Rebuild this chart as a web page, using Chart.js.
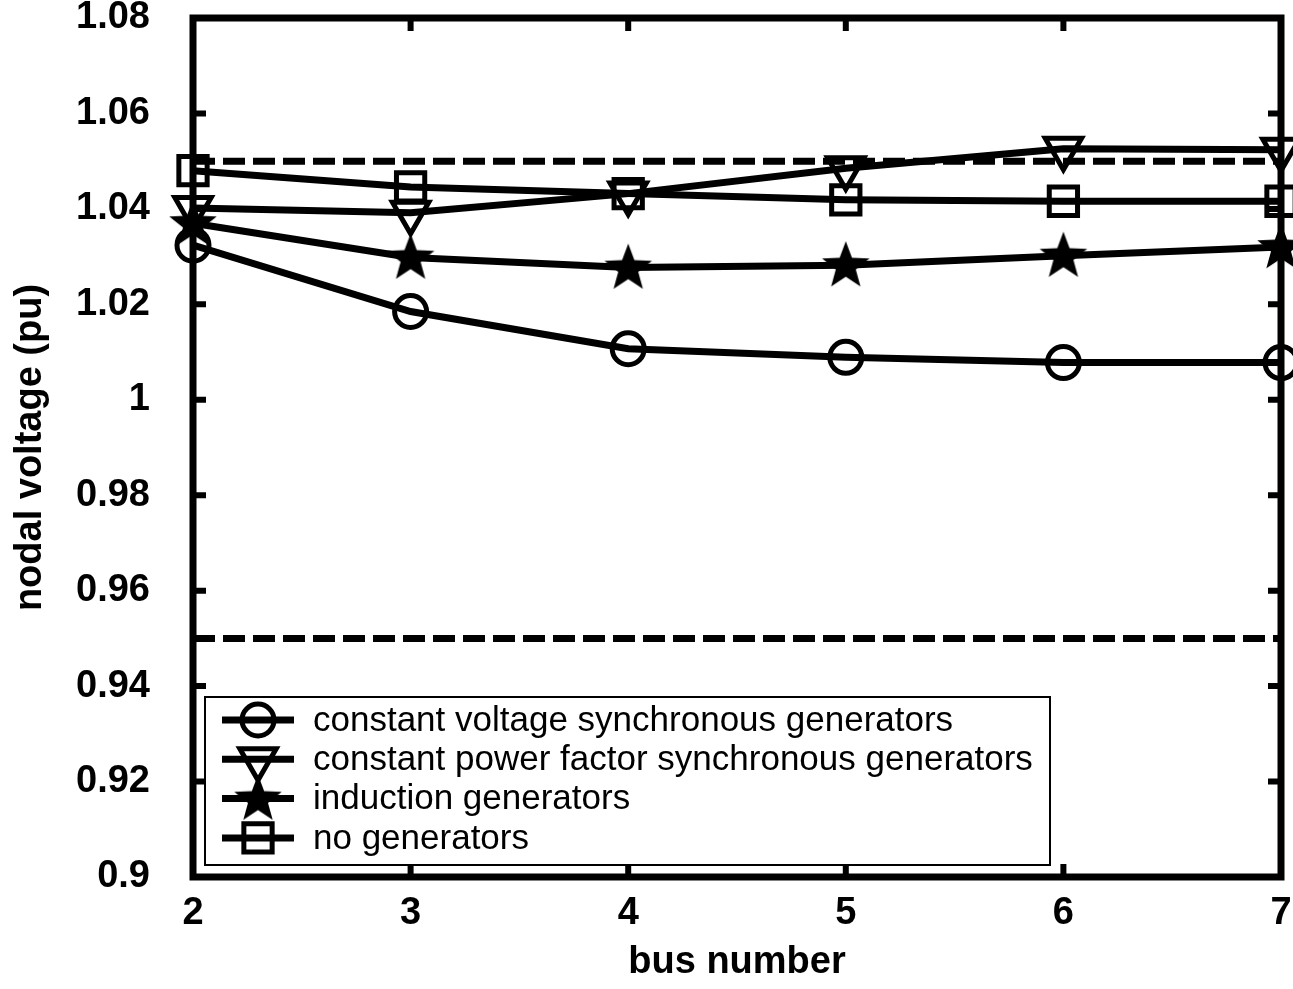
<!DOCTYPE html>
<html lang="en">
<head>
  <meta charset="UTF-8">
  <title>Nodal voltage per bus</title>
  <script src="https://cdn.jsdelivr.net/npm/chart.js"></script>
  <style>
    html, body { margin: 0; padding: 0; background: #fff; }
    #wrap { width: 1293px; height: 989px; }
  </style>
</head>
<body>
  <div id="wrap"><canvas id="voltChart" width="1293" height="989"></canvas></div>

  <script>
    // bus numbers on x, nodal voltage (pu) on y
    const busNumbers = [2, 3, 4, 5, 6, 7];
    const constVoltageSync = [1.0324, 1.0185, 1.0107, 1.0089, 1.0078, 1.0078];
    const constPfSync      = [1.0402, 1.0392, 1.0432, 1.0485, 1.0526, 1.0524];
    const inductionGen     = [1.0370, 1.0298, 1.0277, 1.0282, 1.0302, 1.0320];
    const noGenerators     = [1.0480, 1.0446, 1.0432, 1.0419, 1.0416, 1.0416];

    // voltage limits (dashed)
    const limitBuses = [2, 7];
    const upperLimit = [1.05, 1.05];
    const lowerLimit = [0.95, 0.95];

    const xTickValues = [2, 3, 4, 5, 6, 7];
    const yTickValues = [0.9, 0.92, 0.94, 0.96, 0.98, 1, 1.02, 1.04, 1.06, 1.08];

    const seriesNames = [
      'constant voltage synchronous generators',
      'constant power factor synchronous generators',
      'induction generators',
      'no generators'
    ];

    const FONT = '"Liberation Sans", Arial, Helvetica, sans-serif';

    // filled five point star marker
    const starImg = document.createElement('canvas');
    starImg.width = 54; starImg.height = 54;
    (function () {
      const c = starImg.getContext('2d');
      const R = 25, r = 10.5, cx = 27, cy = 28;
      c.beginPath();
      for (let i = 0; i < 10; i++) {
        const rad = (i % 2 === 0) ? R : r;
        const a = -Math.PI / 2 + i * Math.PI / 5;
        const px = cx + rad * Math.cos(a), py = cy + rad * Math.sin(a);
        if (i === 0) c.moveTo(px, py); else c.lineTo(px, py);
      }
      c.closePath();
      c.fillStyle = '#000';
      c.fill();
    })();

    const toPts = (xs, ys) => xs.map((x, i) => ({ x: x, y: ys[i] }));

    function series(label, values, style, radius, rotation) {
      return {
        label: label,
        data: toPts(busNumbers, values),
        borderColor: '#000',
        borderWidth: 7,
        backgroundColor: 'rgba(0,0,0,0)',
        pointStyle: style,
        pointRadius: radius,
        pointHoverRadius: radius,
        pointRotation: rotation || 0,
        pointBorderWidth: 5,
        pointBorderColor: '#000',
        pointBackgroundColor: 'rgba(0,0,0,0)',
        tension: 0,
        clip: false
      };
    }

    function limit(values) {
      return {
        label: '',
        data: toPts(limitBuses, values),
        borderColor: '#000',
        borderWidth: 7,
        borderDash: [22, 8],
        pointRadius: 0,
        clip: false
      };
    }

    const datasets = [
      series(seriesNames[0], constVoltageSync, 'circle', 16),
      series(seriesNames[1], constPfSync, 'triangle', 21, 180),
      series(seriesNames[2], inductionGen, starImg, 25),
      series(seriesNames[3], noGenerators, 'rect', 20),
      limit(upperLimit),
      limit(lowerLimit)
    ];

    // box frame with inward ticks
    const framePlugin = {
      id: 'frame',
      beforeDatasetsDraw(chart) {
        const { ctx, chartArea: a, scales } = chart;
        ctx.save();
        ctx.strokeStyle = '#000';
        ctx.lineWidth = 6;
        const len = 13;
        ctx.beginPath();
        xTickValues.forEach(v => {
          const px = scales.x.getPixelForValue(v);
          ctx.moveTo(px, a.bottom); ctx.lineTo(px, a.bottom - len);
          ctx.moveTo(px, a.top); ctx.lineTo(px, a.top + len);
        });
        yTickValues.forEach(v => {
          const py = scales.y.getPixelForValue(v);
          ctx.moveTo(a.left, py); ctx.lineTo(a.left + len, py);
          ctx.moveTo(a.right, py); ctx.lineTo(a.right - len, py);
        });
        ctx.stroke();
        ctx.lineWidth = 7;
        ctx.strokeRect(a.left, a.top, a.right - a.left, a.bottom - a.top);
        ctx.restore();
      }
    };

    // legend box in lower left of plot
    const boxLegend = {
      id: 'boxLegend',
      afterDraw(chart) {
        const { ctx, chartArea: a } = chart;
        const left = a.left + 12, w = 845, h = 168;
        const top = a.bottom - 12 - h;
        ctx.save();
        ctx.fillStyle = '#fff';
        ctx.fillRect(left, top, w, h);
        ctx.strokeStyle = '#000';
        ctx.lineWidth = 2;
        ctx.strokeRect(left, top, w, h);
        for (let i = 0; i < 4; i++) {
          const ds = chart.data.datasets[i];
          const y = top + 23 + i * 39.3;
          ctx.strokeStyle = '#000';
          ctx.lineWidth = 7;
          ctx.beginPath();
          ctx.moveTo(left + 17, y); ctx.lineTo(left + 89, y);
          ctx.stroke();
          ctx.lineWidth = 5;
          ctx.fillStyle = 'rgba(0,0,0,0)';
          Chart.helpers.drawPoint(ctx, {
            pointStyle: ds.pointStyle,
            radius: ds.pointRadius,
            rotation: ds.pointRotation,
            borderWidth: 5
          }, left + 53, y);
          ctx.fillStyle = '#000';
          ctx.font = '35px ' + FONT;
          ctx.textBaseline = 'middle';
          ctx.textAlign = 'left';
          ctx.fillText(ds.label, left + 108, y + 1);
        }
        ctx.restore();
      }
    };

    const ctx = document.getElementById('voltChart').getContext('2d');
    const voltChart = new Chart(ctx, {
      type: 'line',
      data: { datasets: datasets },
      options: {
        responsive: false,
        animation: false,
        events: [],
        layout: { autoPadding: false, padding: { top: 18, right: 12, left: 0, bottom: 0 } },
        plugins: {
          legend: { display: false },
          tooltip: { enabled: false }
        },
        scales: {
          x: {
            type: 'linear',
            min: 2,
            max: 7,
            afterBuildTicks: s => { s.ticks = xTickValues.map(v => ({ value: v })); },
            afterFit: s => { s.height = 112; s.paddingLeft = 0; s.paddingRight = 0; },
            grid: { display: false, drawTicks: false },
            border: { display: false },
            ticks: {
              color: '#000',
              padding: 14,
              font: { family: FONT, size: 38, weight: 'bold' }
            },
            title: {
              display: true,
              text: 'bus number',
              color: '#000',
              font: { family: FONT, size: 38, weight: 'bold' },
              padding: { top: 0, bottom: 4 }
            }
          },
          y: {
            min: 0.9,
            max: 1.08,
            afterBuildTicks: s => { s.ticks = yTickValues.map(v => ({ value: v })); },
            afterFit: s => { s.width = 193; s.paddingTop = 0; s.paddingBottom = 0; },
            grid: { display: false, drawTicks: false },
            border: { display: false },
            ticks: {
              color: '#000',
              padding: 43,
              font: { family: FONT, size: 38, weight: 'bold' },
              callback: v => String(parseFloat(Number(v).toFixed(2)))
            },
            title: {
              display: true,
              text: 'nodal voltage (pu)',
              color: '#000',
              font: { family: FONT, size: 38, weight: 'bold' },
              padding: { top: 8, bottom: 0 }
            }
          }
        }
      },
      plugins: [framePlugin, boxLegend]
    });
  </script>
</body>
</html>
